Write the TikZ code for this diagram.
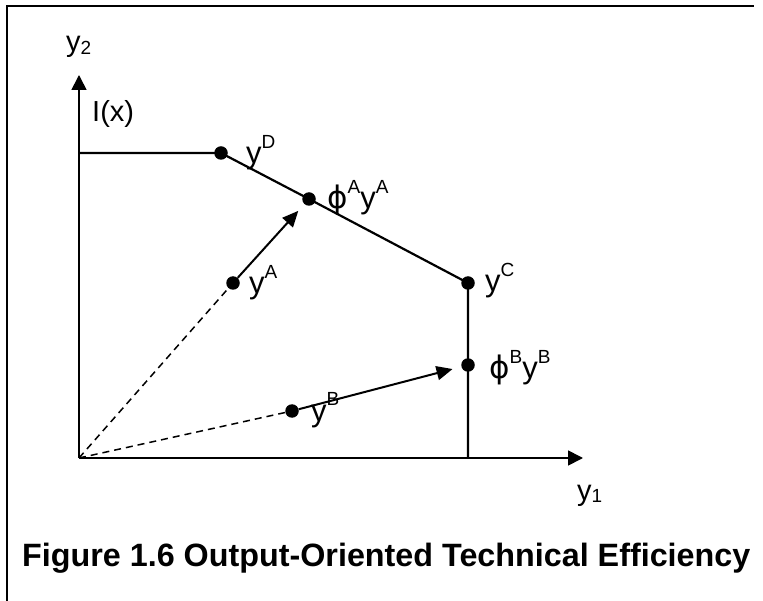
\documentclass[tikz,border=0pt]{standalone}
\usepackage{fontspec}
\setmainfont{Liberation Sans}
\newfontfamily\phifont{DejaVu Sans}
\usetikzlibrary{arrows.meta,positioning,calc}
\newcommand{\supx}[1]{\raisebox{0.5em}{\fontsize{19}{19}\selectfont #1}}
\newcommand{\subx}[1]{\raisebox{-0.08em}{\fontsize{19}{19}\selectfont #1}}
\newcommand{\phix}{{\phifont ϕ}}

\begin{document}
\begin{tikzpicture}[x=1pt,y=-1pt,
    dot/.style={circle,fill=black,minimum size=13.5pt,inner sep=0pt},
    lbl/.style={font=\fontsize{31}{33}\selectfont,inner sep=0pt,anchor=base west},
    axlbl/.style={font=\fontsize{29}{31}\selectfont,inner sep=0pt,anchor=base west},
    axis/.style={line width=1.7pt,-{Triangle[length=15pt,width=15pt]}},
    frontier/.style={line width=2.2pt},
    ray/.style={line width=1.5pt,dash pattern=on 7pt off 5pt},
    move/.style={line width=2pt,-{Triangle[length=16pt,width=14pt]},shorten >=9pt}]

    \useasboundingbox (0,0) rectangle (763,601);

    % frame
    \draw[line width=2pt] (7,601) -- (7,6) -- (754,6);

    % axes
    \coordinate (O) at (79,458);
    \coordinate (ytop) at (79,75);
    \coordinate (xend) at (583,458);
    \draw[axis] (O) -- (ytop);
    \draw[axis] (O) -- (xend);
    \node[axlbl] (y2) at (66,52) {y\subx{2}};
    \node[axlbl] (y1) at (577,500) {y\subx{1}};

    % points
    \node[dot] (yD) at (221,153) {};
    \node[dot] (phiA) at (309,199) {};
    \node[dot] (yC) at (468,283) {};
    \node[dot] (phiB) at (468,365) {};
    \node[dot] (yA) at (233,283) {};
    \node[dot] (yB) at (292,411) {};
    \coordinate (lft) at (79,153);
    \coordinate (bot) at (468,458);

    % frontier I(x)
    \draw[frontier] (lft) -- (yD.center) -- (phiA.center) -- (yC.center)
      -- (phiB.center) -- (bot);
    \node[axlbl] (Ix) at (92,122) {I(x)};

    % rays from origin and projections
    \draw[ray] (O) -- (yA);
    \draw[ray] (O) -- (yB);
    \draw[move] (yA) -- (phiA);
    \draw[move] (yB) -- (phiB);

    % labels
    \node[lbl] (lD) at (246,164) {y\supx{D}};
    \node[lbl] (lphiA) at (327,209) {\phix\supx{A}y\supx{A}};
    \node[lbl] (lC) at (485,292) {y\supx{C}};
    \node[lbl] (lphiB) at (489,379) {\phix\supx{B}y\supx{B}};
    \node[lbl] (lA) at (249,294) {y\supx{A}};
    \node[lbl] (lB) at (311,421) {y\supx{B}};

    % caption
    \node[font=\fontsize{32.3}{34}\selectfont\bfseries,inner sep=0pt,anchor=base west] (cap)
      at (22,566) {Figure 1.6 Output-Oriented Technical Efficiency};
\end{tikzpicture}
\end{document}
